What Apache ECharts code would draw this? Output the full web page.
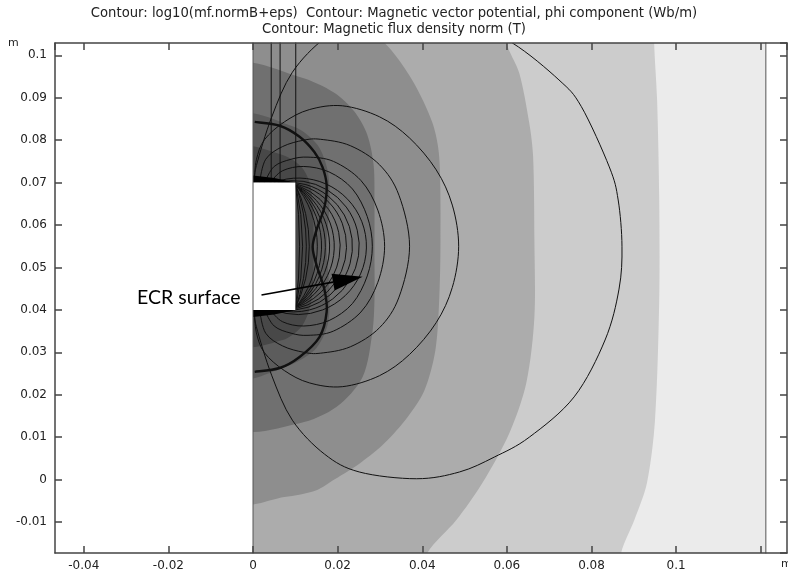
<!DOCTYPE html>
<html>
<head>
<meta charset="utf-8">
<script src="https://cdn.jsdelivr.net/npm/echarts@6/dist/echarts.min.js"></script>
<style>
html, body { margin: 0; padding: 0; background: #fff; }
#chart { width: 788px; height: 578px; }
</style>
</head>
<body>
<div id="chart"></div>
<script>
// visible extent of the r-z plane (m)
var rRange = [-0.0468, 0.1262];
var zRange = [-0.0173, 0.1029];
var domainEdge = 0.1212;

// filled contour bands of log10(B), outlines in (r, z) metres, light -> dark
var bandDomain = [[-0.003, -0.03], [0.1212, -0.03], [0.1212, 0.12], [-0.003, 0.12]];
var band2 = [[-0.003, 0.12], [0.0945, 0.12], [0.0948, 0.1029], [0.0955, 0.0895], [0.0960, 0.0660], [0.0960, 0.0423],
  [0.0950, 0.0140], [0.0931, -0.0008], [0.0901, -0.0096], [0.0870, -0.0173], [0.0855, -0.03], [-0.003, -0.03]];
var band3 = [[-0.003, 0.12], [0.0570, 0.12], [0.0599, 0.1029], [0.0629, 0.0959], [0.0653, 0.0840], [0.0662, 0.0761],
  [0.0665, 0.0565], [0.0665, 0.0383], [0.0646, 0.0228], [0.0606, 0.0110], [0.0542, -0.0008], [0.0480, -0.0096],
  [0.0412, -0.0173], [0.0360, -0.03], [-0.003, -0.03]];
var band4 = [[-0.003, 0.1148], [0.0150, 0.1125], [0.0256, 0.1059], [0.0311, 0.1029], [0.0376, 0.0942], [0.0424, 0.0841],
  [0.0440, 0.0761], [0.0443, 0.0565], [0.0440, 0.0423], [0.0431, 0.0305], [0.0405, 0.0210], [0.0365, 0.0147],
  [0.0311, 0.0086], [0.0256, 0.0041], [0.0192, 0.0000], [0.0150, -0.0025], [0.0074, -0.0041], [-0.003, -0.0048]];
var band5 = [[-0.003, 0.0970], [0.0110, 0.0949], [0.0192, 0.0912], [0.0240, 0.0867], [0.0270, 0.0813], [0.0285, 0.0742],
  [0.0287, 0.0659], [0.0287, 0.0542], [0.0287, 0.0423], [0.0282, 0.0346], [0.0259, 0.0242], [0.0197, 0.0171],
  [0.0110, 0.0133], [-0.003, 0.0129]];
var band6 = [[-0.003, 0.0853], [0.0098, 0.0831], [0.0152, 0.0789], [0.0176, 0.0730], [0.0181, 0.0659], [0.0174, 0.0548],
  [0.0181, 0.0435], [0.0176, 0.0364], [0.0145, 0.0305], [0.0074, 0.0265], [-0.003, 0.0246]];
var band7 = [[-0.003, 0.0777], [0.0070, 0.0765], [0.0117, 0.0734], [0.0138, 0.0682], [0.0143, 0.0548], [0.0138, 0.0423],
  [0.0117, 0.0364], [0.0070, 0.0329], [-0.003, 0.0322]];
var wedgeTop = [[-0.003, 0.0720], [0.0050, 0.0711], [0.0101, 0.0700], [-0.003, 0.0700]];
var wedgeBottom = [[-0.003, 0.0380], [0.0050, 0.0389], [0.0101, 0.0400], [-0.003, 0.0400]];
var magnet = [[0, 0.04], [0.01, 0.04], [0.01, 0.07], [0, 0.07]];

// contour lines of A_phi (field lines), outer ones as traced points
var lineOuter = [[0.0003, 0.070], [0.0008, 0.0740], [0.0044, 0.0854], [0.0093, 0.0960], [0.0169, 0.1040], [0.0251, 0.1082],
  [0.0386, 0.1098], [0.0500, 0.1080], [0.0613, 0.1029], [0.0723, 0.0942], [0.0776, 0.0879], [0.0842, 0.0737],
  [0.0863, 0.0659], [0.0872, 0.0550], [0.0865, 0.0449], [0.0832, 0.0329], [0.0759, 0.0195], [0.0653, 0.0100],
  [0.0570, 0.0053], [0.0488, 0.0018], [0.0386, 0.0002], [0.0251, 0.0018], [0.0169, 0.0060], [0.0093, 0.0140],
  [0.0044, 0.0246], [0.0008, 0.0360], [0.0003, 0.040]];
var lineB = [[0.0003, 0.070], [0.0008, 0.0754], [0.0027, 0.0801], [0.0074, 0.0843], [0.0133, 0.0872], [0.0211, 0.0881],
  [0.0299, 0.0855], [0.0370, 0.0805], [0.0433, 0.0730], [0.0471, 0.0647], [0.0486, 0.0550], [0.0471, 0.0453],
  [0.0433, 0.0370], [0.0370, 0.0295], [0.0299, 0.0245], [0.0211, 0.0219], [0.0133, 0.0228], [0.0074, 0.0257],
  [0.0027, 0.0299], [0.0008, 0.0346], [0.0003, 0.040]];
var lineC = [[0.0015, 0.070], [0.0030, 0.0755], [0.0070, 0.0785], [0.0120, 0.0800], [0.0160, 0.0802], [0.0230, 0.0787],
  [0.0299, 0.0742], [0.0345, 0.0670], [0.0370, 0.0550], [0.0345, 0.0430], [0.0299, 0.0358], [0.0230, 0.0313],
  [0.0160, 0.0298], [0.0120, 0.0300], [0.0070, 0.0315], [0.0030, 0.0345], [0.0015, 0.040]];
var lineD = [[0.0027, 0.070], [0.0050, 0.0738], [0.0090, 0.0755], [0.0130, 0.0760], [0.0190, 0.0750], [0.0255, 0.0705],
  [0.0295, 0.0635], [0.0311, 0.0550], [0.0295, 0.0465], [0.0255, 0.0395], [0.0190, 0.0350], [0.0130, 0.0340],
  [0.0090, 0.0345], [0.0050, 0.0362], [0.0027, 0.040]];
var lineE = [[0.0040, 0.070], [0.0070, 0.0728], [0.0120, 0.0738], [0.0180, 0.0725], [0.0235, 0.0685], [0.0270, 0.0620],
  [0.0282, 0.0550], [0.0270, 0.0480], [0.0235, 0.0415], [0.0180, 0.0375], [0.0120, 0.0362], [0.0070, 0.0372], [0.0040, 0.040]];
// inner field lines near the magnet face: r where each leaves the top face, r where it crosses z = 0.055
var innerStartR = [0.0049, 0.0058, 0.0066, 0.0074, 0.0080, 0.0085, 0.0089, 0.0092, 0.0094, 0.0096, 0.0098, 0.0099, 0.0100, 0.0100];
var innerMidR = [0.0268, 0.0251, 0.0235, 0.0221, 0.0206, 0.0192, 0.0181, 0.0171, 0.0162, 0.0152, 0.0133, 0.0126, 0.0117, 0.0110];
var faceTopZ = 0.07, faceMidZ = 0.055, faceBottomZ = 0.04;
var axisLines = [
  [[0.0043, 0.070], [0.0043, 0.12]],
  [[0.0064, 0.070], [0.0064, 0.12]],
  [[0.0101, 0.070], [0.0101, 0.12]]
];

// |B| contour at the ECR field
var ecrLine = [[0.0004, 0.0843], [0.0063, 0.0834], [0.0110, 0.0808], [0.0145, 0.0772], [0.0164, 0.0737], [0.0174, 0.0694],
  [0.0169, 0.0643], [0.0150, 0.0588], [0.0141, 0.0548], [0.0150, 0.0506], [0.0169, 0.0447], [0.0174, 0.0395],
  [0.0157, 0.0336], [0.0110, 0.0289], [0.0063, 0.0263], [0.0004, 0.0254]];

var arrowTail = [0.0020, 0.0435];
var arrowTip = [0.0259, 0.0478];

var FONT = 'DejaVu Sans';

function clipRect(params, api) {
    var cs = params.coordSys;
    var x0 = Math.max(cs.x, api.coord([0, 0])[0]);
    return {type: 'rect', shape: {x: x0, y: cs.y, width: cs.x + cs.width - x0, height: cs.height}};
}

function polySeries(points, color, z, smooth) {
    return {
        type: 'custom', coordinateSystem: 'cartesian2d', z: z, silent: true, clip: true,
        data: [0],
        renderItem: function (params, api) {
            return {
                type: 'polygon',
                shape: {points: points.map(function (p) { return api.coord(p); }), smooth: smooth},
                style: {fill: color, stroke: null},
                clipPath: clipRect(params, api)
            };
        }
    };
}

// smooth curve through the traced points (Catmull-Rom drawn as cubic Beziers)
function curveSeries(points, width, z) {
    return {
        type: 'custom', coordinateSystem: 'cartesian2d', z: z, silent: true, clip: true,
        data: [0],
        renderItem: function (params, api) {
            var p = points.map(function (q) { return api.coord(q); });
            var n = p.length;
            var d = 'M' + p[0][0] + ' ' + p[0][1];
            for (var i = 0; i < n - 1; i++) {
                var p0 = p[Math.max(i - 1, 0)], p1 = p[i], p2 = p[i + 1], p3 = p[Math.min(i + 2, n - 1)];
                d += ' C' + (p1[0] + (p2[0] - p0[0]) / 6) + ' ' + (p1[1] + (p2[1] - p0[1]) / 6) +
                     ' ' + (p2[0] - (p3[0] - p1[0]) / 6) + ' ' + (p2[1] - (p3[1] - p1[1]) / 6) +
                     ' ' + p2[0] + ' ' + p2[1];
            }
            return {
                type: 'path', shape: {pathData: d},
                style: {stroke: '#111', lineWidth: width, fill: null},
                clipPath: clipRect(params, api)
            };
        }
    };
}

var series = [
    polySeries(bandDomain, '#ebebeb', 1, 0),
    polySeries(band2, '#cccccc', 1, 0.3),
    polySeries(band3, '#acacac', 1, 0.3),
    polySeries(band4, '#8e8e8e', 1, 0.3),
    polySeries(band5, '#707070', 1, 0.3),
    polySeries(band6, '#5c5c5c', 1, 0.3),
    polySeries(band7, '#484848', 1, 0.3),
    // white half-plane r < 0
    {
        type: 'custom', coordinateSystem: 'cartesian2d', z: 2, silent: true, data: [0],
        renderItem: function (params, api) {
            var cs = params.coordSys;
            var x0 = api.coord([0, 0])[0];
            return {type: 'rect', shape: {x: cs.x, y: cs.y, width: x0 - cs.x, height: cs.height}, style: {fill: '#fff'}};
        }
    }
];

[lineOuter, lineB, lineC, lineD, lineE].forEach(function (pts) {
    series.push(curveSeries(pts, 1, 3));
});
axisLines.forEach(function (pts) {
    series.push({
        type: 'line', data: pts, z: 3, silent: true, symbol: 'none',
        lineStyle: {color: '#111', width: 1}
    });
});

// inner field lines: circular arcs through the top-face point, the mid-plane point and the bottom-face point
series.push({
    type: 'custom', coordinateSystem: 'cartesian2d', z: 3, silent: true, clip: true,
    data: innerStartR.map(function (r0, i) { return [r0, innerMidR[i]]; }),
    renderItem: function (params, api) {
        var a = api.coord([api.value(0), faceTopZ]);
        var m = api.coord([api.value(1), faceMidZ]);
        var b = api.coord([api.value(0), faceBottomZ]);
        var cy = (a[1] + b[1]) / 2, h = (b[1] - a[1]) / 2;
        var cx = (m[0] * m[0] - a[0] * a[0] - h * h) / (2 * (m[0] - a[0]));
        var rad = m[0] - cx;
        var ang = Math.atan2(a[1] - cy, a[0] - cx);
        return {
            type: 'arc',
            shape: {cx: cx, cy: cy, r: rad, startAngle: ang, endAngle: -ang, clockwise: true},
            style: {stroke: '#111', lineWidth: 1, fill: null}
        };
    }
});

series.push(polySeries(wedgeTop, '#000', 4, 0));
series.push(polySeries(wedgeBottom, '#000', 4, 0));
series.push(polySeries(magnet, '#fff', 4, 0));
series.push(curveSeries(ecrLine, 2.4, 5));
series.push({
    type: 'line', data: [[0, -0.03], [0, 0.12]], z: 5, silent: true, symbol: 'none',
    lineStyle: {color: '#555', width: 1}
});
series.push({
    type: 'line', data: [[domainEdge, -0.03], [domainEdge, 0.12]], z: 5, silent: true, symbol: 'none',
    lineStyle: {color: '#555', width: 1}
});
// annotation arrow
series.push({
    type: 'custom', coordinateSystem: 'cartesian2d', z: 6, silent: true, data: [0],
    renderItem: function (params, api) {
        var a = api.coord(arrowTail), b = api.coord(arrowTip);
        var dx = b[0] - a[0], dy = b[1] - a[1], len = Math.sqrt(dx * dx + dy * dy);
        var ux = dx / len, uy = dy / len, head = 30, half = 8.5;
        var bx = b[0] - ux * head, by = b[1] - uy * head;
        return {
            type: 'group',
            children: [
                {type: 'line', shape: {x1: a[0], y1: a[1], x2: bx, y2: by}, style: {stroke: '#000', lineWidth: 1.6}},
                {type: 'polygon', shape: {points: [b, [bx - uy * half, by + ux * half], [bx + uy * half, by - ux * half]]},
                 style: {fill: '#000'}}
            ]
        };
    }
});

function xAxisOpt(pos, showLabel) {
    return {
        type: 'value', position: pos, min: rRange[0], max: rRange[1], splitNumber: 9, z: 10,
        axisLine: {show: true, onZero: false, lineStyle: {color: '#444', width: 1.5}},
        axisTick: {show: true, inside: true, length: 7, lineStyle: {color: '#444', width: 1.5}},
        axisLabel: {show: showLabel, showMinLabel: false, showMaxLabel: false, margin: 7,
                    color: '#222', fontFamily: FONT, fontSize: 12,
                    formatter: function (v) { return v > 0.11 ? '' : String(+v.toFixed(3)); }},
        splitLine: {show: false}
    };
}
function yAxisOpt(pos, showLabel) {
    return {
        type: 'value', position: pos, min: zRange[0], max: zRange[1], splitNumber: 12, z: 10,
        axisLine: {show: true, onZero: false, lineStyle: {color: '#444', width: 1.5}},
        axisTick: {show: true, inside: true, length: 7, lineStyle: {color: '#444', width: 1.5}},
        axisLabel: {show: showLabel, showMinLabel: false, showMaxLabel: false, margin: 8,
                    color: '#222', fontFamily: FONT, fontSize: 12},
        splitLine: {show: false}
    };
}

var chart = echarts.init(document.getElementById('chart'));
chart.setOption({
    animation: false,
    backgroundColor: '#fff',
    title: {
        text: 'Contour: log10(mf.normB+eps)  Contour: Magnetic vector potential, phi component (Wb/m)\nContour: Magnetic flux density norm (T)',
        left: 'center', top: 1,
        textStyle: {fontFamily: FONT, fontSize: 13.2, fontWeight: 'normal', color: '#222', lineHeight: 16}
    },
    grid: {left: 55, right: 1, top: 43, bottom: 25},
    xAxis: [xAxisOpt('bottom', true), xAxisOpt('top', false)],
    yAxis: [yAxisOpt('left', true), yAxisOpt('right', false)],
    graphic: [
        {type: 'text', left: 8, top: 38, style: {text: 'm', fontFamily: FONT, fontSize: 11, fill: '#222'}},
        {type: 'text', left: 781, top: 559, style: {text: 'm', fontFamily: FONT, fontSize: 11, fill: '#222'}},
        {type: 'text', left: 137, top: 288, z: 20, style: {text: 'ECR surface', fontFamily: 'Lato', fontSize: 19.5, fill: '#000'}}
    ],
    series: series
});
</script>
</body>
</html>
